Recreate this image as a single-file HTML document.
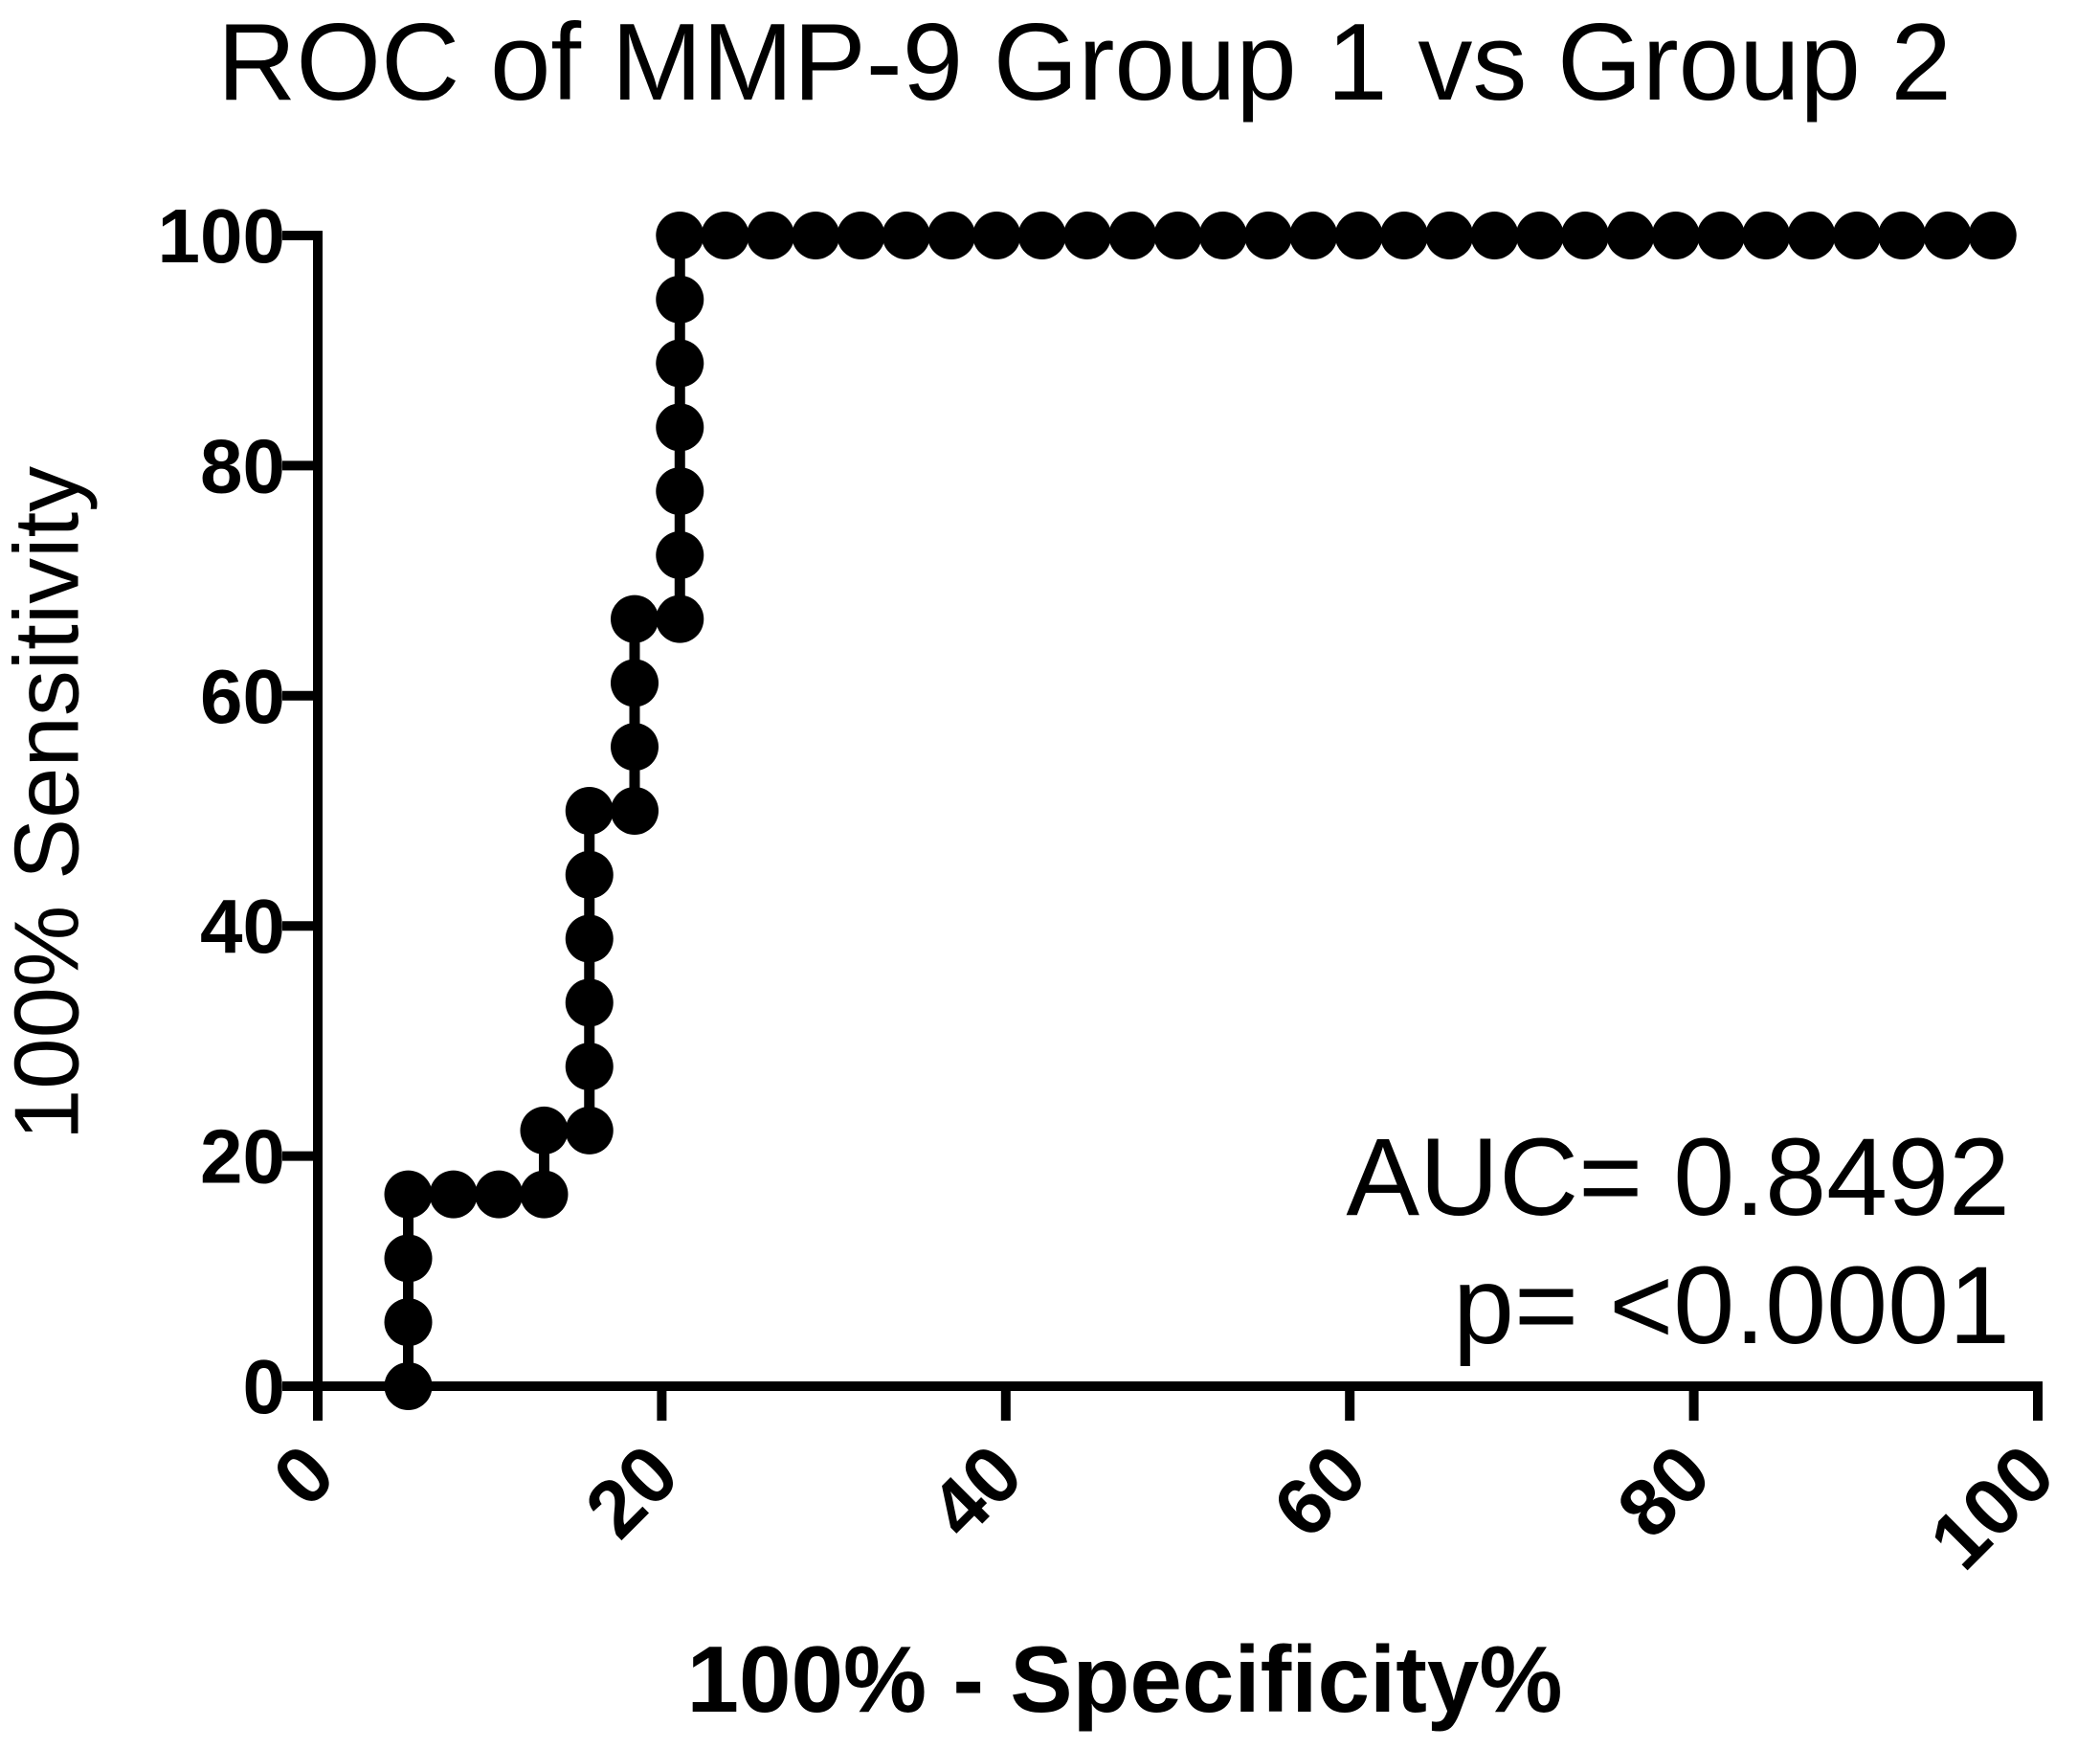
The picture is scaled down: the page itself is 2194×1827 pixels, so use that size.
<!DOCTYPE html>
<html><head><meta charset="utf-8"><style>
html,body{margin:0;padding:0;background:#fff;}
svg{display:block;font-family:"Liberation Sans",Arial,sans-serif;}
</style></head><body>
<svg id="chart" width="2194" height="1827" viewBox="0 0 2194 1827" xmlns="http://www.w3.org/2000/svg">
<rect width="2194" height="1827" fill="#fff"/>
<text x="1133" y="104" font-size="114" text-anchor="middle">ROC of MMP-9 Group 1 vs Group 2</text>
<g id="axes"></g>
<g id="series"></g>
<text x="56" y="839" font-size="96" text-anchor="middle" transform="rotate(-90 56 839)" dominant-baseline="middle">100% Sensitivity</text>
<text x="1175" y="1788" font-size="98" font-weight="bold" text-anchor="middle">100% - Specificity%</text>
<text x="2100" y="1269" font-size="115" text-anchor="end">AUC= 0.8492</text>
<text x="2100" y="1403" font-size="115" text-anchor="end">p= &lt;0.0001</text>
</svg>
<script>
const xTicks = [0, 20, 40, 60, 80, 100];
const yTicks = [0, 20, 40, 60, 80, 100];
const specValues = [5.26,5.26,5.26,5.26,7.89,10.53,13.16,13.16,15.79,15.79,15.79,15.79,15.79,15.79,18.42,18.42,18.42,18.42,21.05,21.05,21.05,21.05,21.05,21.05,21.05,23.68,26.32,28.95,31.58,34.21,36.84,39.47,42.11,44.74,47.37,50.00,52.63,55.26,57.89,60.53,63.16,65.79,68.42,71.05,73.68,76.32,78.95,81.58,84.21,86.84,89.47,92.11,94.74,97.37];
const sensValues = [0,5.56,11.11,16.67,16.67,16.67,16.67,22.22,22.22,27.78,33.33,38.89,44.44,50,50,55.56,61.11,66.67,66.67,72.22,77.78,83.33,88.89,94.44,100,100,100,100,100,100,100,100,100,100,100,100,100,100,100,100,100,100,100,100,100,100,100,100,100,100,100,100,100,100];

const NS = "http://www.w3.org/2000/svg";
const X0 = 332, X1 = 2129, Y0 = 1448, Y1 = 246;
const xs = v => X0 + (X1 - X0) * v / 100;
const ys = v => Y0 - (Y0 - Y1) * v / 100;
function mk(tag, attrs, parent) {
  const e = document.createElementNS(NS, tag);
  for (const k in attrs) e.setAttribute(k, attrs[k]);
  parent.appendChild(e);
  return e;
}
const axes = document.getElementById('axes');
const yAxis = mk('line', {x1: xs(0), y1: ys(100) - 5, x2: xs(0), y2: 1484, stroke: '#000', 'stroke-width': 10}, axes);


const xAxis = mk('line', {x1: 295, y1: ys(0), x2: xs(100) + 5, y2: ys(0), stroke: '#000', 'stroke-width': 10}, axes);


yTicks.forEach(t => {
  const l = mk('line', {x1: 295, y1: ys(t), x2: xs(0), y2: ys(t), stroke: '#000', 'stroke-width': 10}, axes);
  
  
  const tx = mk('text', {x: 298, y: ys(t) + 28, 'font-size': 80, 'font-weight': 'bold', 'text-anchor': 'end'}, axes);
  tx.textContent = t;
  
  
});
xTicks.forEach(t => {
  const l = mk('line', {x1: xs(t), y1: ys(0), x2: xs(t), y2: 1484, stroke: '#000', 'stroke-width': 10}, axes);
  
  
  const px = xs(t) + 22, py = 1545;
  const tx = mk('text', {x: px, y: py, 'font-size': 84, 'font-weight': 'bold', 'text-anchor': 'end', transform: `rotate(-45 ${px} ${py})`}, axes);
  tx.textContent = t;
  
  
});
const series = document.getElementById('series');
const pts = specValues.map((v, i) => xs(v) + ',' + ys(sensValues[i])).join(' ');
const line = mk('polyline', {points: pts, fill: 'none', stroke: '#000', 'stroke-width': 11}, series);


specValues.forEach((v, i) => {
  const c = mk('circle', {cx: xs(v), cy: ys(sensValues[i]), r: 25, fill: '#000'}, series);
  
  
});
</script>
</body></html>
